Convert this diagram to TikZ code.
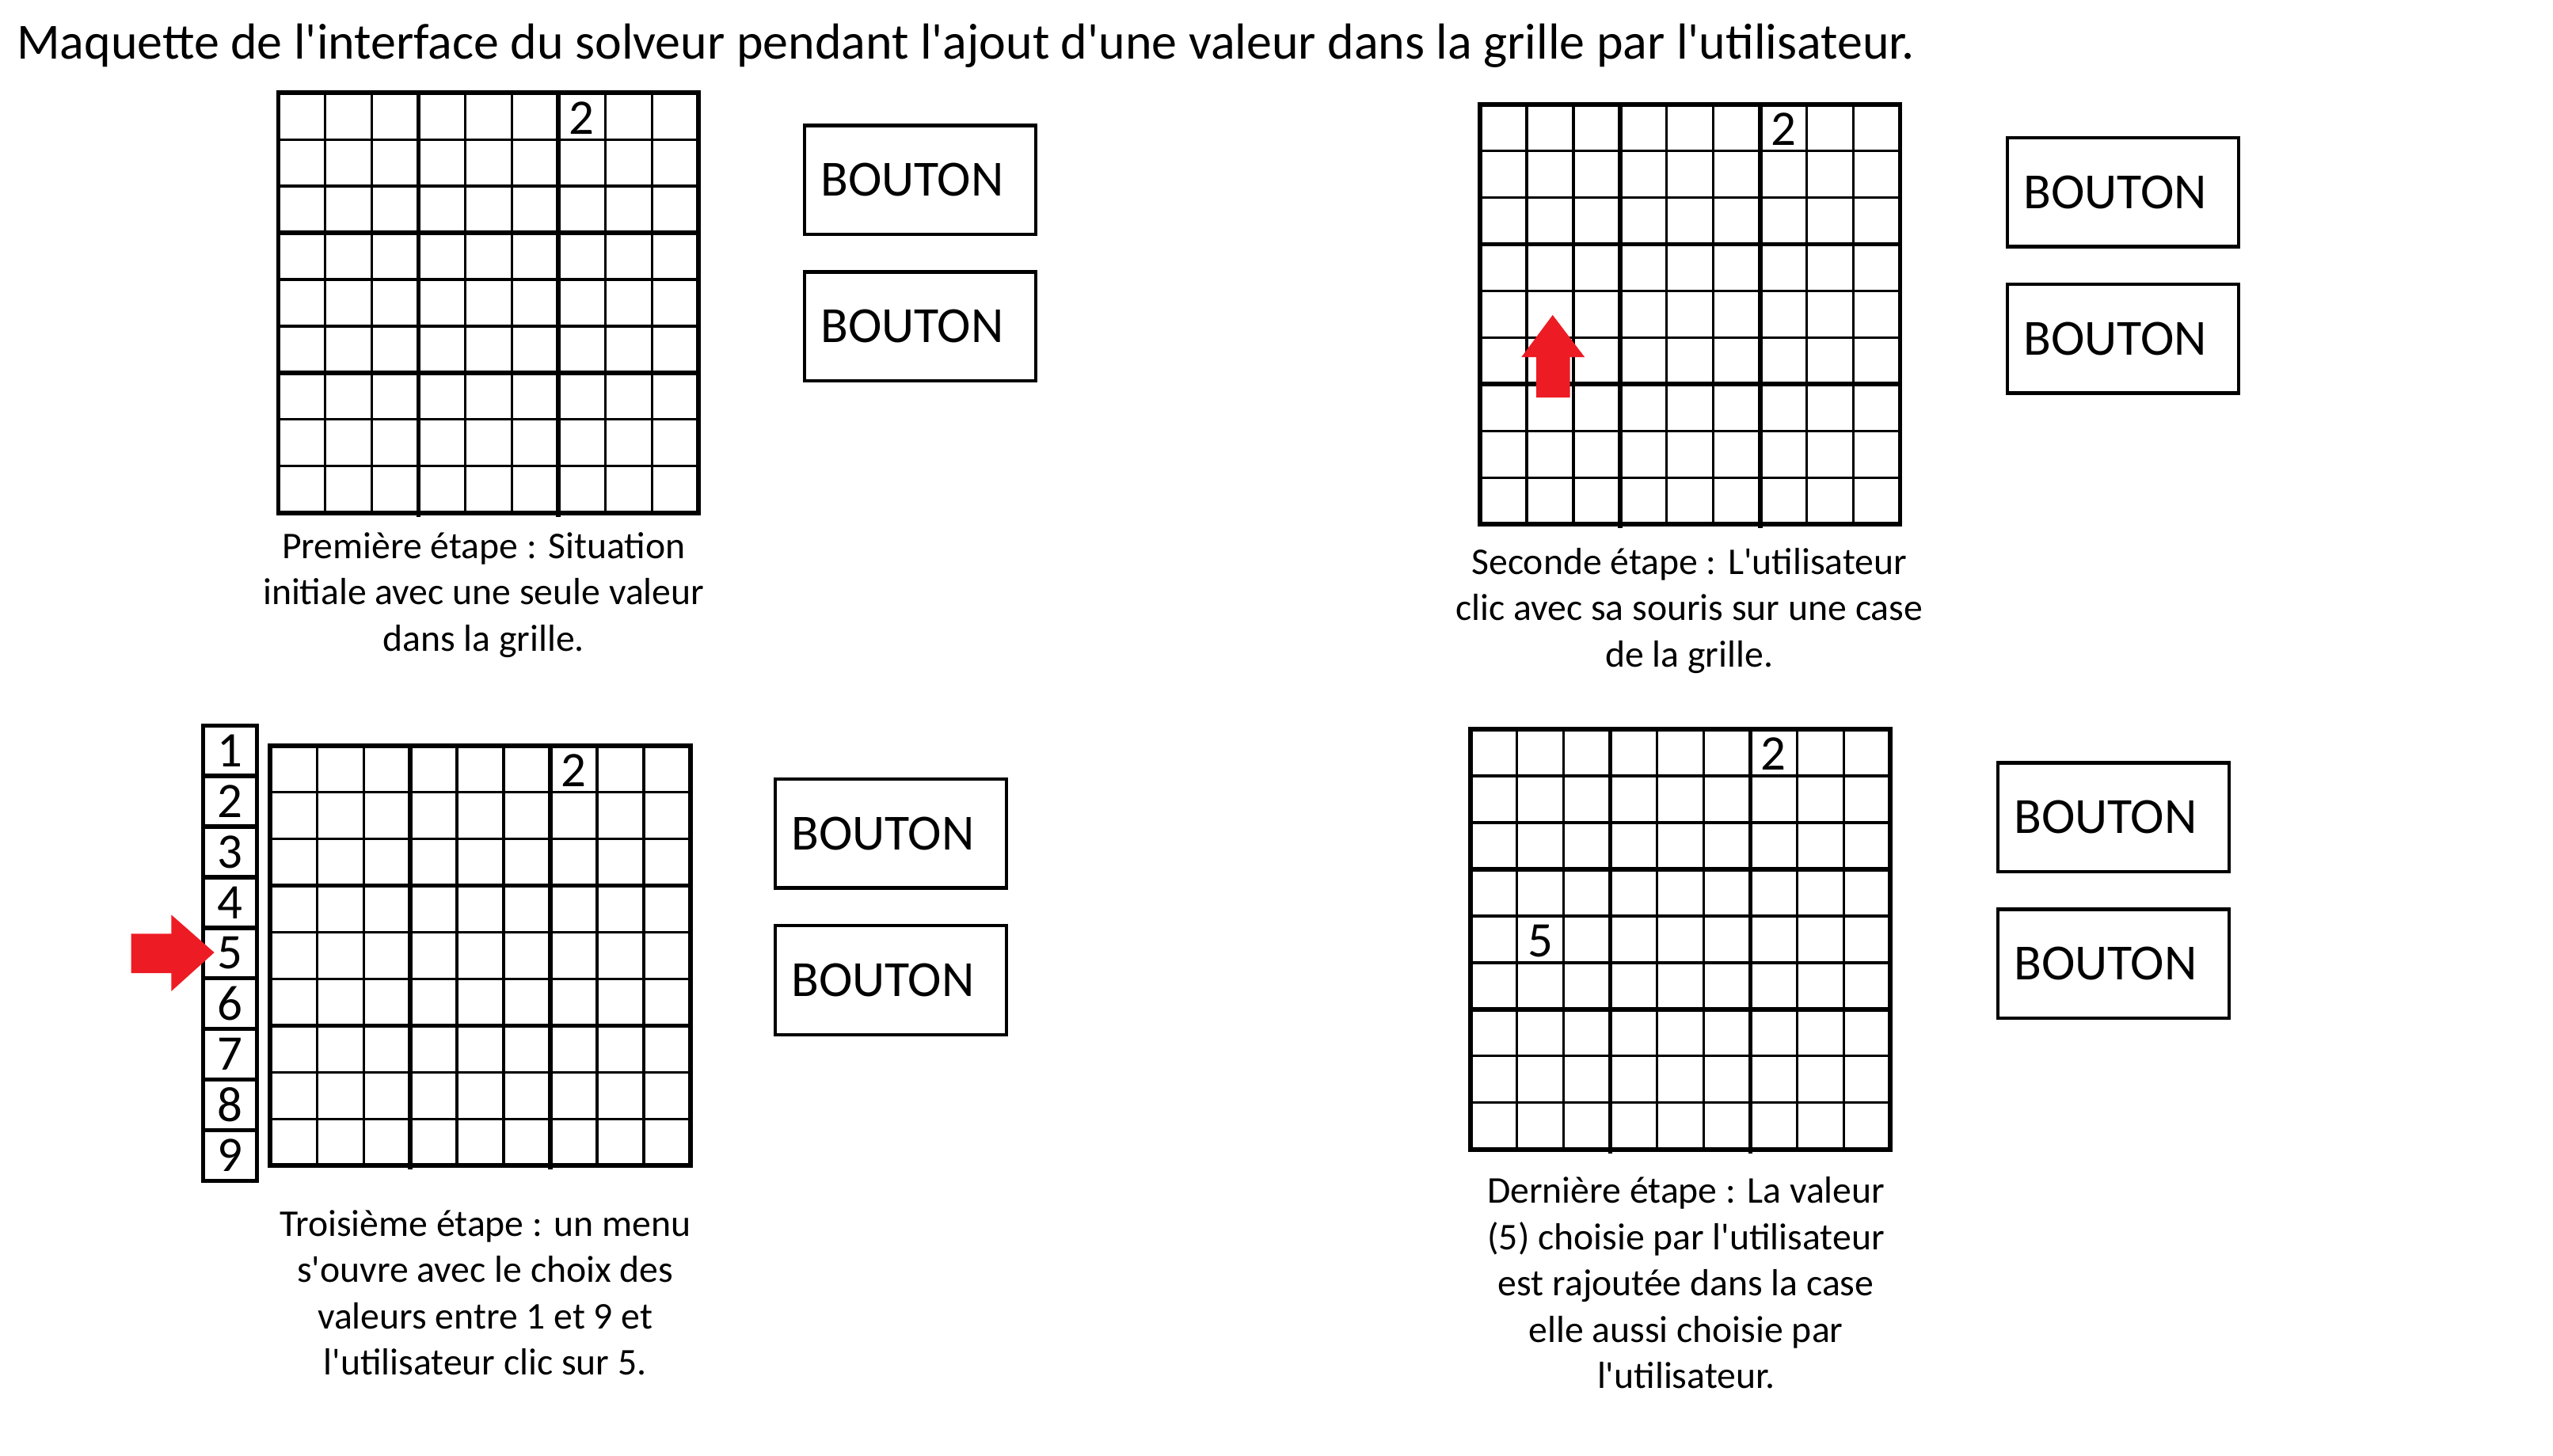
\documentclass[tikz,border=0pt]{standalone}
\usepackage{fontspec}
\setmainfont{Carlito}[Ligatures=TeXOff]
\usepackage{tikz}
\usepackage{xcolor}
\definecolor{rougefleche}{RGB}{237,28,36}

\begin{document}
\begin{tikzpicture}[x=0.02cm,y=-0.02cm,
  every node/.style={font=\fontsize{13.2}{16.2}\selectfont},
  fin/.style={line width=0.9pt},
  epais/.style={line width=1.6pt},
  bouton/.style={draw,line width=1.2pt,minimum width=2.84cm,minimum height=1.34cm,
    text width=2.44cm,inner xsep=0.2cm,align=left,font=\fontsize{17.7}{20}\selectfont},
  chiffre/.style={anchor=base,inner sep=0pt,font=\fontsize{17.4}{20}\selectfont},
  menucase/.style={draw,line width=1.5pt,minimum width=0.66cm,minimum height=0.622cm,
    inner sep=0pt,font=\fontsize{17.4}{20}\selectfont},
  legende/.style={align=center}]
\useasboundingbox (0,0) rectangle (1568,894);
\node[anchor=base west,inner sep=0pt,font=\fontsize{17.7}{20}\selectfont] (titre) at (10,36)
  {Maquette de l'interface du solveur pendant l'ajout d'une valeur dans la grille par l'utilisateur.};
% les quatre grilles
\foreach \gx/\gy/\gn in {171/57/a,909/64/b,166/458/c,903/448/d}{
  \foreach \i in {1,2,4,5,7,8}{
    \draw[fin] (\gx+\i*28.67,\gy) -- ++(0,258);
    \draw[fin] (\gx,\gy+\i*28.67) -- ++(258,0);
  }
  \foreach \i in {3,6}{
    \draw[epais] (\gx+\i*28.67,\gy) -- ++(0,260.5);
    \draw[epais] (\gx,\gy+\i*28.67) -- ++(258,0);
  }
  \draw[epais] (\gx,\gy) rectangle ++(258,258);
  \node[chiffre] (deux\gn) at (\gx+186.3,\gy+25.2) {2};
}
\node[chiffre] (cinqd) at (946,587.9) {5};
% boutons
\node[bouton] (b1a) at (565,110.5) {BOUTON};
\node[bouton] (b1b) at (565,200.5) {BOUTON};
\node[bouton] (b2a) at (1304,118) {BOUTON};
\node[bouton] (b2b) at (1304,208) {BOUTON};
\node[bouton] (b3a) at (547,512) {BOUTON};
\node[bouton] (b3b) at (547,602) {BOUTON};
\node[bouton] (b4a) at (1298,502) {BOUTON};
\node[bouton] (b4b) at (1298,592) {BOUTON};
% menu des valeurs
\foreach \v in {1,...,9}
  \node[menucase] (m\v) at (141.3,445.6+\v*31.07-15.53) {\v};
% fleches
\fill[rougefleche] (943.6,244.2) -- (943.6,219.4) -- (934.4,219.4) -- (953.6,193.5)
  -- (973.3,219.4) -- (964.2,219.4) -- (964.2,244.2) -- cycle;
\fill[rougefleche] (80.5,573.6) -- (105.2,573.6) -- (105.2,561.9) -- (131.6,585.1)
  -- (105.2,608.9) -- (105.2,597.8) -- (80.5,597.8) -- cycle;
% legendes
\node[legende] (leg1) at (297,365.5) {Première étape : Situation\\initiale avec une seule valeur\\dans la grille.};
\node[legende] (leg2) at (1037.5,375) {Seconde étape : L'utilisateur\\clic avec sa souris sur une case\\de la grille.};
\node[legende] (leg3) at (298,794) {Troisième étape : un menu\\s'ouvre avec le choix des\\valeurs entre 1 et 9 et\\l'utilisateur clic sur 5.};
\node[legende] (leg4) at (1035.5,788) {Dernière étape : La valeur\\(5) choisie par l'utilisateur\\est rajoutée dans la case\\elle aussi choisie par\\l'utilisateur.};
\end{tikzpicture}
\end{document}
